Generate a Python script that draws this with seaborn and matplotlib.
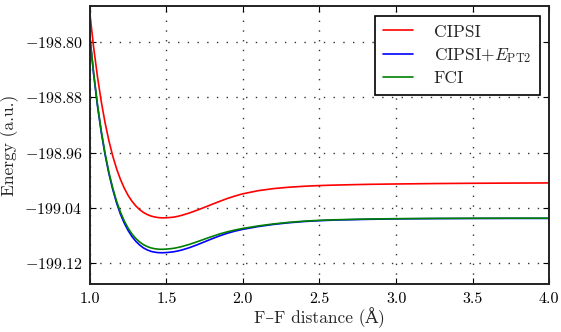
import matplotlib
matplotlib.use("Agg")
import matplotlib.pyplot as plt
import seaborn as sns
import pandas as pd

# F-F distance (Angstrom)
distance = [1.000, 1.025, 1.050, 1.075, 1.100, 1.125, 1.150, 1.175, 1.200, 1.225,
            1.250, 1.275, 1.300, 1.325, 1.350, 1.375, 1.400, 1.425, 1.450, 1.475,
            1.500, 1.525, 1.550, 1.575, 1.600, 1.65, 1.70, 1.75, 1.80, 1.85,
            1.90, 1.95, 2.00, 2.10, 2.20, 2.30, 2.40, 2.50, 2.60, 2.80,
            3.00, 3.25, 3.50, 3.75, 4.00]

cipsi = [-198.7575, -198.8072, -198.8498, -198.8862, -198.9170, -198.9430, -198.9650,
         -198.9834, -198.9987, -199.0114, -199.0219, -199.0303, -199.0371, -199.0425,
         -199.0466, -199.0497, -199.0519, -199.0533, -199.0542, -199.0545, -199.0544,
         -199.0540, -199.0534, -199.0523, -199.0509, -199.0475, -199.0435, -199.0392,
         -199.0348, -199.0305, -199.0264, -199.0228, -199.0197, -199.0152, -199.0122,
         -199.0102, -199.0088, -199.0078, -199.0071, -199.0061, -199.0055, -199.0049,
         -199.0045, -199.0042, -199.0040]

cipsi_pt2 = [-198.7920, -198.8461, -198.8919, -198.9306, -198.9632, -198.9906, -199.0134,
             -199.0328, -199.0490, -199.0620, -199.0727, -199.0814, -199.0882, -199.0937,
             -199.0979, -199.1009, -199.1030, -199.1042, -199.1049, -199.1050, -199.1047,
             -199.1042, -199.1035, -199.1024, -199.1011, -199.0977, -199.0936, -199.0891,
             -199.0846, -199.0804, -199.0767, -199.0736, -199.0711, -199.0671, -199.0640,
             -199.0616, -199.0598, -199.0586, -199.0577, -199.0567, -199.0560, -199.0556,
             -199.0554, -199.0553, -199.0553]

fci = [-198.7900, -198.8441, -198.8899, -198.9286, -198.9612, -198.9886, -199.0114,
       -199.0303, -199.0460, -199.0588, -199.0692, -199.0776, -199.0842, -199.0893,
       -199.0932, -199.0960, -199.0980, -199.0992, -199.0999, -199.1000, -199.0997,
       -199.0992, -199.0985, -199.0974, -199.0961, -199.0929, -199.0892, -199.0852,
       -199.0813, -199.0777, -199.0746, -199.0720, -199.0698, -199.0662, -199.0633,
       -199.0610, -199.0593, -199.0581, -199.0573, -199.0563, -199.0557, -199.0553,
       -199.0551, -199.0550, -199.0550]

series_names = ["CIPSI", "CIPSI+$E_\\mathrm{PT2}$", "FCI"]
series_colors = ["#ff0000", "#0000ff", "#008000"]

x_ticks = [1.0, 1.5, 2.0, 2.5, 3.0, 3.5, 4.0]
y_ticks = [-198.80, -198.88, -198.96, -199.04, -199.12]

df = pd.DataFrame({
    "distance": distance * 3,
    "energy": cipsi + cipsi_pt2 + fci,
    "method": [series_names[0]] * len(distance) + [series_names[1]] * len(distance)
              + [series_names[2]] * len(distance),
})

sns.set_style("ticks")
plt.rcParams["font.family"] = ["cmr10", "DejaVu Serif"]
plt.rcParams["mathtext.fontset"] = "cm"
plt.rcParams["axes.formatter.use_mathtext"] = True

fig = plt.figure(figsize=(5.61, 3.32), dpi=100)
ax = fig.add_axes([0.160, 0.145, 0.819, 0.837])

sns.lineplot(data=df, x="distance", y="energy", hue="method",
             palette=dict(zip(series_names, series_colors)),
             hue_order=series_names, linewidth=1.2, ax=ax, sort=False)

ax.set_xlim(1.0, 4.0)
ax.set_ylim(-199.15, -198.748)
ax.set_xticks(x_ticks)
ax.set_xticklabels([f"{t:.1f}" for t in x_ticks])
ax.set_yticks(y_ticks)
ax.set_yticklabels([f"$-${abs(t):.2f}" for t in y_ticks])
ax.grid(True, linestyle=(0, (1, 6)), color="#333333", linewidth=1.0)
ax.tick_params(direction="in", top=True, right=True, length=4, width=0.8,
               labelsize=11.5, colors="black")
ax.tick_params(axis="x", pad=6)
ax.tick_params(axis="y", pad=5)
for s in ax.spines.values():
    s.set_linewidth(1.4)
    s.set_color("#222222")
ax.set_xlabel("F\u2013F distance (\u00c5)", fontsize=12.5, labelpad=1)
ax.set_ylabel("Energy (a.u.)", fontsize=12.5, labelpad=4)

leg = ax.legend(loc="upper right", frameon=True, fancybox=False, fontsize=12.5,
                handlelength=1.7, handletextpad=1.2, borderpad=0.5,
                labelspacing=0.35, borderaxespad=0.55)
leg.set_title(None)
leg.get_frame().set_edgecolor("black")
leg.get_frame().set_linewidth(1.2)
leg.get_frame().set_alpha(1)

fig.savefig("out.png", dpi=100)
